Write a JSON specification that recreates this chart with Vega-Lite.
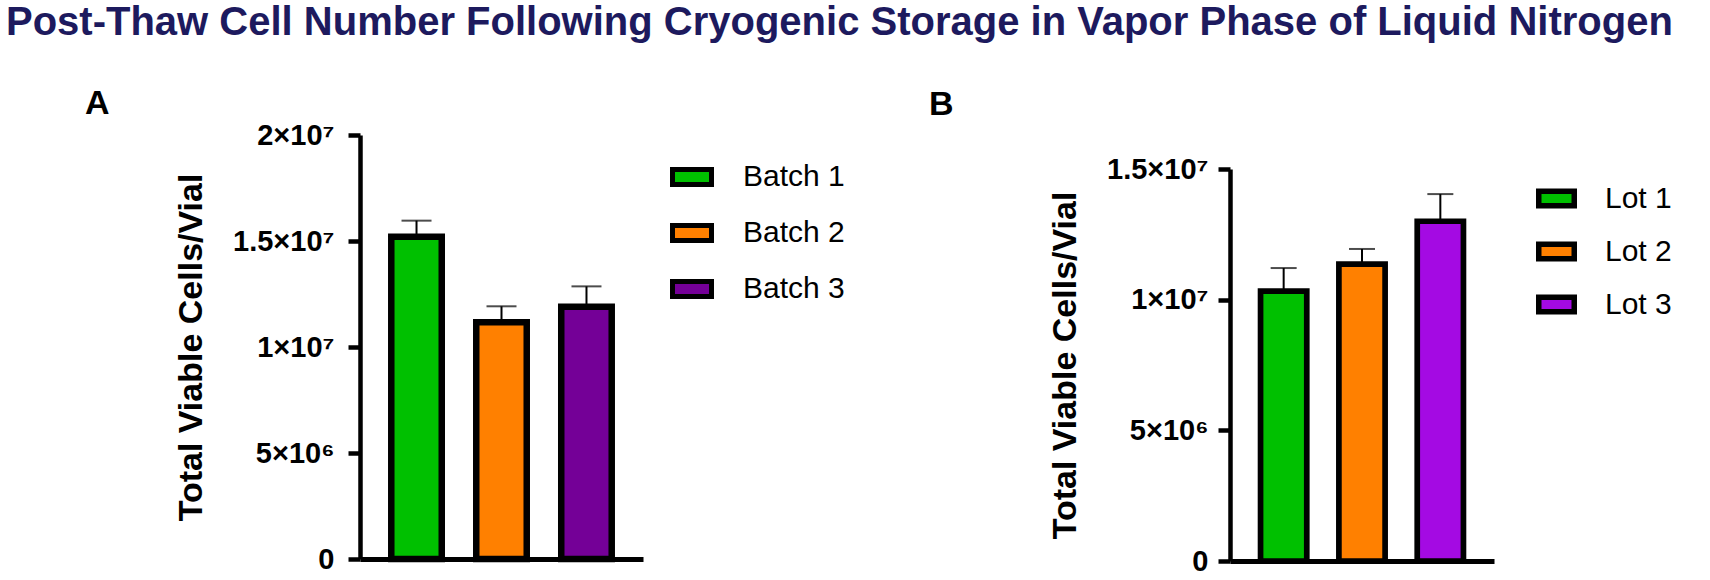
{
  "$schema": "https://vega.github.io/schema/vega-lite/v6.json",
  "background": "white",
  "padding": {"left": 6, "top": 3, "right": 0, "bottom": 0},
  "title": {
    "text": "Post-Thaw Cell Number Following Cryogenic Storage in Vapor Phase of Liquid Nitrogen",
    "anchor": "start",
    "dx": -79,
    "offset": 44,
    "font": "Liberation Sans",
    "fontSize": 40,
    "fontWeight": "bold",
    "color": "#1d1a5e"
  },
  "spacing": 84,
  "config": {
    "font": "Liberation Sans",
    "view": {"stroke": null},
    "axis": {
      "domainColor": "black",
      "domainWidth": 4.5,
      "tickColor": "black",
      "tickWidth": 4.5,
      "tickSize": 12,
      "labelColor": "black",
      "labelFontSize": 29,
      "labelFontWeight": "bold",
      "labelPadding": 10,
      "titleColor": "black",
      "titleFontSize": 34,
      "titleFontWeight": "bold",
      "grid": false
    },
    "legend": {
      "labelColor": "black",
      "symbolStrokeColor": "black",
      "symbolOpacity": 1
    }
  },
  "resolve": {
    "scale": {"x": "independent", "y": "independent", "color": "independent"},
    "legend": {"color": "independent"}
  },
  "hconcat": [
    {
      "spacing": 0,
      "bounds": "flush",
      "vconcat": [
        {
          "title": {"text": "A", "anchor": "start", "frame": "group", "dx": -275, "offset": 3, "fontSize": 34, "fontWeight": "bold", "color": "black"},
          "width": 283,
          "height": 10,
          "data": {"values": [{}]},
          "mark": "text",
          "encoding": {"text": {"value": ""}}
        },
        {
          "width": 283,
          "height": 424,
          "data": {
            "values": [
              {"batch": "Batch 1", "mean": 15200000, "upper": 15960000},
              {"batch": "Batch 2", "mean": 11170000, "upper": 11920000},
              {"batch": "Batch 3", "mean": 11900000, "upper": 12860000}
            ]
          },
          "encoding": {
            "x": {
              "field": "batch",
              "type": "nominal",
              "sort": null,
              "scale": {"paddingInner": 0.406, "paddingOuter": 0.368},
              "axis": {"title": null, "labels": false, "ticks": false, "domainWidth": 5}
            },
            "y": {
              "field": "mean",
              "type": "quantitative",
              "title": "Total Viable Cells/Vial",
              "scale": {"domain": [0, 20000000], "nice": false},
              "axis": {
                "values": [0, 5000000, 10000000, 15000000, 20000000],
                "labelPadding": 14,
                "titlePadding": 24,
                "labelExpr": "datum.value == 0 ? '0' : datum.value == 5000000 ? '5×10⁶' : datum.value == 10000000 ? '1×10⁷' : datum.value == 15000000 ? '1.5×10⁷' : '2×10⁷'"
              }
            }
          },
          "layer": [
            {
              "mark": {"type": "rule", "color": "black", "strokeWidth": 2},
              "encoding": {"y2": {"field": "upper"}}
            },
            {
              "mark": {"type": "tick", "color": "black", "size": 30, "thickness": 2},
              "encoding": {"y": {"field": "upper", "type": "quantitative", "title": "Total Viable Cells/Vial"}}
            },
            {
              "mark": {"type": "bar", "stroke": "black", "strokeWidth": 6.5, "opacity": 1},
              "encoding": {
                "color": {
                  "field": "batch",
                  "type": "nominal",
                  "scale": {"domain": ["Batch 1", "Batch 2", "Batch 3"], "range": ["#00c000", "#ff8000", "#740097"]},
                  "legend": {
                    "title": null,
                    "orient": "none",
                    "legendX": 310,
                    "legendY": 30,
                    "symbolType": "M-1,-0.385H1V0.385H-1Z",
                    "symbolSize": 1521,
                    "symbolStrokeWidth": 5,
                    "labelFontSize": 30,
                    "labelOffset": 29,
                    "rowPadding": 16
                  }
                }
              }
            }
          ]
        }
      ]
    },
    {
      "spacing": 0,
      "bounds": "flush",
      "vconcat": [
        {
          "title": {"text": "B", "anchor": "start", "frame": "group", "dx": -301, "offset": 3, "fontSize": 34, "fontWeight": "bold", "color": "black"},
          "width": 264,
          "height": 44,
          "data": {"values": [{}]},
          "mark": "text",
          "encoding": {"text": {"value": ""}}
        },
        {
          "width": 264,
          "height": 392,
          "data": {
            "values": [
              {"lot": "Lot 1", "mean": 10330000, "upper": 11210000},
              {"lot": "Lot 2", "mean": 11360000, "upper": 11940000},
              {"lot": "Lot 3", "mean": 13000000, "upper": 14040000}
            ]
          },
          "encoding": {
            "x": {
              "field": "lot",
              "type": "nominal",
              "sort": null,
              "scale": {"paddingInner": 0.41, "paddingOuter": 0.39},
              "axis": {"title": null, "labels": false, "ticks": false, "domainWidth": 5}
            },
            "y": {
              "field": "mean",
              "type": "quantitative",
              "title": "Total Viable Cells/Vial",
              "scale": {"domain": [0, 15000000], "nice": false},
              "axis": {
                "values": [0, 5000000, 10000000, 15000000],
                "titlePadding": 24,
                "labelExpr": "datum.value == 0 ? '0' : datum.value == 5000000 ? '5×10⁶' : datum.value == 10000000 ? '1×10⁷' : '1.5×10⁷'"
              }
            }
          },
          "layer": [
            {
              "mark": {"type": "rule", "color": "black", "strokeWidth": 2},
              "encoding": {"y2": {"field": "upper"}}
            },
            {
              "mark": {"type": "tick", "color": "black", "size": 26, "thickness": 2},
              "encoding": {"y": {"field": "upper", "type": "quantitative", "title": "Total Viable Cells/Vial"}}
            },
            {
              "mark": {"type": "bar", "stroke": "black", "strokeWidth": 5.7, "opacity": 1},
              "encoding": {
                "color": {
                  "field": "lot",
                  "type": "nominal",
                  "scale": {"domain": ["Lot 1", "Lot 2", "Lot 3"], "range": ["#00c000", "#ff8000", "#a40ae3"]},
                  "legend": {
                    "title": null,
                    "orient": "none",
                    "legendX": 306,
                    "legendY": 53,
                    "symbolType": "M-1,-0.41H1V0.41H-1Z",
                    "symbolSize": 1260,
                    "symbolStrokeWidth": 5.5,
                    "labelFontSize": 30,
                    "labelOffset": 28,
                    "rowPadding": 14
                  }
                }
              }
            }
          ]
        }
      ]
    }
  ]
}
